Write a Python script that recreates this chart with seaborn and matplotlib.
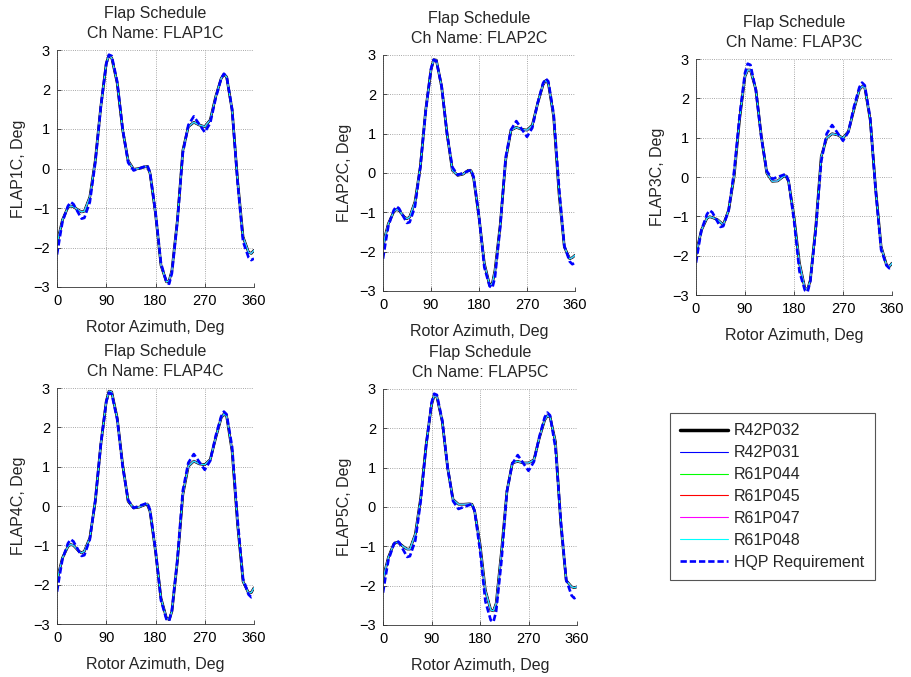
import numpy as np
import pandas as pd
import matplotlib
matplotlib.use("Agg")
import matplotlib.pyplot as plt
import seaborn as sns
from matplotlib.lines import Line2D

# %% data (rotor azimuth, deg -> flap angle, deg)
azimuth = [0, 5, 10, 20, 25, 30, 40, 45, 50, 60, 70, 80, 90, 95, 100, 110, 120,
           130, 140, 150, 160, 165, 170, 180, 190, 200, 205, 210, 220, 230, 240,
           250, 260, 270, 280, 290, 300, 305, 310, 320, 330, 340, 350, 355, 360]

flap1c = [-1.92, -1.60, -1.30, -0.98, -0.95, -0.97, -1.06, -1.10, -1.08, -0.72, 0.21,
          1.56, 2.66, 2.87, 2.80, 2.16, 0.97, 0.20, -0.02, 0.00, 0.04, 0.05, -0.12,
          -1.14, -2.45, -2.87, -2.84, -2.58, -1.31, 0.46, 1.06, 1.17, 1.10, 1.06,
          1.23, 1.82, 2.28, 2.38, 2.32, 1.48, -0.30, -1.73, -2.12, -2.15, -2.07]
flap2c = [-1.88, -1.55, -1.29, -0.99, -0.93, -0.95, -1.12, -1.16, -1.12, -0.73, 0.16,
          1.60, 2.62, 2.88, 2.87, 2.19, 1.01, 0.07, -0.06, -0.03, 0.07, 0.06, -0.14,
          -1.12, -2.30, -2.86, -2.81, -2.47, -1.29, 0.33, 1.09, 1.16, 1.11, 1.09,
          1.22, 1.77, 2.24, 2.35, 2.28, 1.43, -0.52, -1.88, -2.18, -2.15, -2.09]
flap3c = [-1.98, -1.65, -1.35, -1.05, -1.01, -1.03, -1.09, -1.15, -1.22, -0.84, 0.01,
          1.46, 2.56, 2.72, 2.72, 2.22, 1.03, 0.10, -0.11, -0.10, 0.01, 0.03, -0.11,
          -1.01, -2.19, -2.83, -2.86, -2.62, -1.26, 0.52, 0.99, 1.10, 1.07, 0.99,
          1.16, 1.71, 2.22, 2.30, 2.28, 1.45, -0.30, -1.77, -2.24, -2.28, -2.19]
flap4c = [-1.92, -1.60, -1.32, -1.03, -0.98, -1.00, -1.15, -1.19, -1.15, -0.81, 0.12,
          1.56, 2.66, 2.92, 2.90, 2.24, 1.05, 0.12, -0.05, -0.03, 0.03, 0.05, -0.14,
          -1.15, -2.34, -2.85, -2.89, -2.68, -1.41, 0.29, 1.01, 1.14, 1.07, 1.05,
          1.18, 1.73, 2.24, 2.34, 2.28, 1.39, -0.47, -1.92, -2.21, -2.20, -2.08]
flap5c = [-1.87, -1.55, -1.28, -0.94, -0.90, -0.92, -1.03, -1.07, -1.07, -0.69, 0.24,
          1.58, 2.59, 2.84, 2.80, 2.17, 0.99, 0.19, 0.07, 0.07, 0.08, 0.07, -0.10,
          -0.94, -2.12, -2.62, -2.64, -2.45, -1.11, 0.40, 1.12, 1.16, 1.12, 1.12,
          1.20, 1.75, 2.21, 2.32, 2.29, 1.66, -0.44, -1.87, -2.03, -2.05, -2.03]

# requirement schedule, same for every flap
hqp_req = [-2.18, -1.75, -1.35, -0.95, -0.85, -0.90, -1.15, -1.27, -1.25, -0.85, 0.15,
           1.55, 2.65, 2.88, 2.85, 2.20, 1.00, 0.15, -0.05, 0.00, 0.05, 0.08, -0.10,
           -1.10, -2.40, -2.88, -2.92, -2.65, -1.35, 0.40, 1.10, 1.32, 1.12, 0.92,
           1.15, 1.78, 2.28, 2.40, 2.33, 1.50, -0.35, -1.85, -2.25, -2.32, -2.28]

channels = ["FLAP1C", "FLAP2C", "FLAP3C", "FLAP4C", "FLAP5C"]
channel_data = [flap1c, flap2c, flap3c, flap4c, flap5c]
runs = ["R42P032", "R42P031", "R61P044", "R61P045", "R61P047", "R61P048"]
run_colors = ["black", "#0000ff", "#00ff00", "#ff0000", "#ff00ff", "#00ffff"]
run_widths = [1.9, 0.8, 0.8, 0.8, 0.8, 0.8]

# %% style
sns.set_style("white")
plt.rcParams["font.family"] = ["Liberation Sans", "DejaVu Sans"]

W, H = 911, 677
fig = plt.figure(figsize=(W / 100, H / 100), dpi=100)

# axes boxes in pixels: left, top, right, bottom
boxes = [(57, 50, 254, 287), (383, 55, 575, 291), (696, 59, 892, 295),
         (57, 388, 254, 624), (383, 389, 577, 625)]

for name, vals, (l, t, r, b) in zip(channels, channel_data, boxes):
    ax = fig.add_axes([l / W, 1 - b / H, (r - l) / W, (b - t) / H])
    df = pd.DataFrame({"az": azimuth, "val": vals, "hqp": hqp_req})
    for run, c, lw in zip(runs, run_colors, run_widths):
        sns.lineplot(data=df, x="az", y="val", ax=ax, color=c, lw=lw,
                     estimator=None, legend=False)
    sns.lineplot(data=df, x="az", y="hqp", ax=ax, color="#0000ff", lw=1.9,
                 linestyle=(0, (2.4, 1.1)), estimator=None, legend=False)

    ax.set_xlim(0, 360)
    ax.set_ylim(-3, 3)
    ax.set_xticks([0, 90, 180, 270, 360])
    ax.set_yticks(range(-3, 4))
    ax.grid(True, linestyle=":", color="#8c8c8c", lw=0.6)
    for s in ["top", "right"]:
        ax.spines[s].set_visible(False)
    for s in ["left", "bottom"]:
        ax.spines[s].set_color("#333333")
        ax.spines[s].set_linewidth(0.6)
    ax.tick_params(direction="in", length=3, width=0.6, labelsize=10.5, pad=5,
                   left=True, bottom=True, colors="#333333", labelcolor="black")
    ax.set_title("Flap Schedule\nCh Name: " + name, fontsize=11.5, pad=8.5,
                 linespacing=1.4)
    ax.set_xlabel("Rotor Azimuth, Deg", fontsize=11.5, labelpad=8.5)
    ax.set_ylabel(name + ", Deg", fontsize=11.5, labelpad=5)

handles = [Line2D([], [], color=c, lw=(2.5 if i == 0 else 0.8))
           for i, c in enumerate(run_colors)]
handles.append(Line2D([], [], color="#0000ff", lw=1.9, linestyle=(0, (2.4, 1.1))))
leg = fig.legend(handles, runs + ["HQP Requirement"], loc="upper left",
                 bbox_to_anchor=(670 / W, 1 - 413 / H), fontsize=11.5,
                 frameon=True, fancybox=False, edgecolor="#555555", framealpha=1,
                 handlelength=3.0, handletextpad=0.35, labelspacing=0.43,
                 borderpad=0.65, borderaxespad=0)
leg.get_frame().set_linewidth(0.8)

fig.savefig("out.png", dpi=100)
